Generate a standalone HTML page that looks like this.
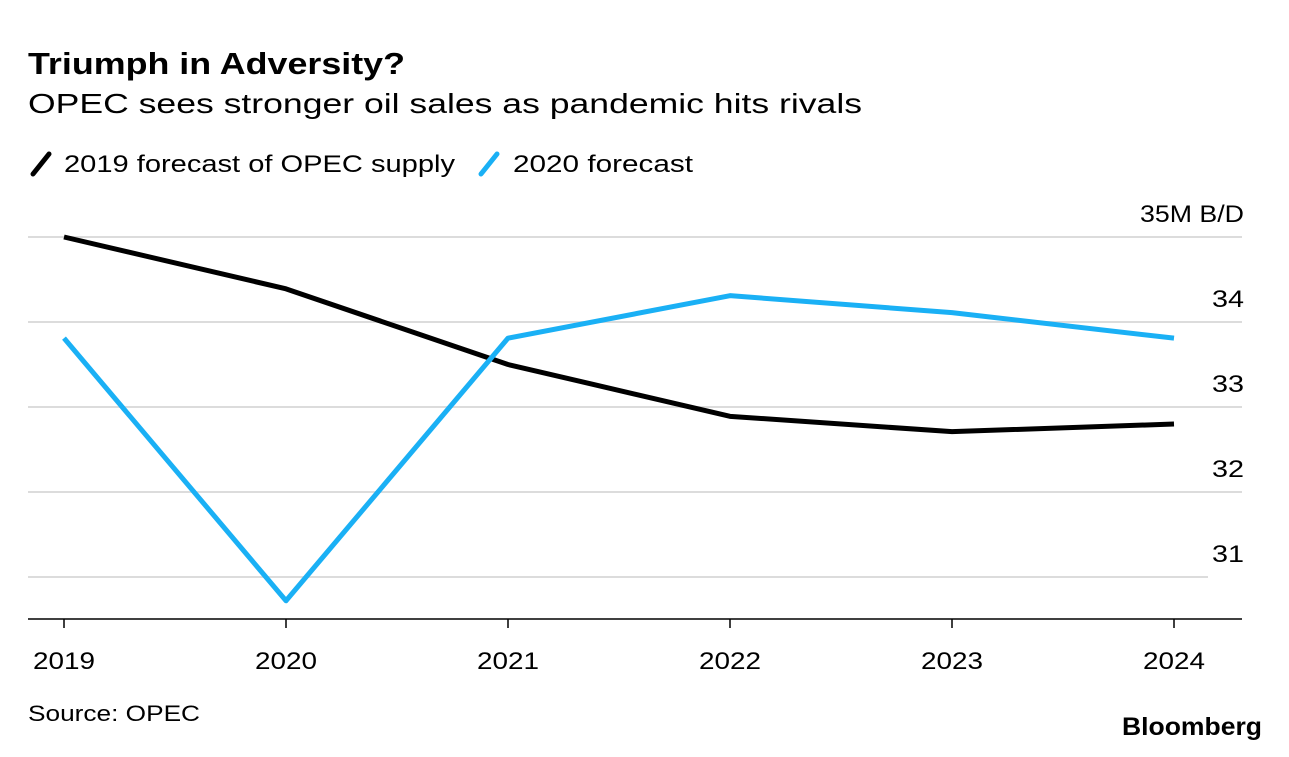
<!DOCTYPE html>
<html><head><meta charset="utf-8"><style>
body{margin:0;background:#fff;width:1289px;height:752px;overflow:hidden;font-family:"Liberation Sans",sans-serif;}
svg text{font-family:"Liberation Sans",sans-serif;}
</style></head><body>
<svg id="chart" width="1289" height="752">
<text x="28" y="74" font-size="31" font-weight="bold" fill="#000" textLength="377" lengthAdjust="spacingAndGlyphs">Triumph in Adversity?</text>
<text x="28" y="113" font-size="28" fill="#000" textLength="834" lengthAdjust="spacingAndGlyphs">OPEC sees stronger oil sales as pandemic hits rivals</text>
<g>
<line x1="33" y1="174" x2="49" y2="154" stroke="#000" stroke-width="5" stroke-linecap="round"/>
<text x="64" y="172" font-size="24" textLength="391" lengthAdjust="spacingAndGlyphs">2019 forecast of OPEC supply</text>
<line x1="481" y1="174" x2="497" y2="154" stroke="#1ab0f5" stroke-width="5" stroke-linecap="round"/>
<text x="513" y="172" font-size="24" textLength="180" lengthAdjust="spacingAndGlyphs">2020 forecast</text>
</g>
<g id="grid"></g>
<g id="axes"></g>
<g id="series"></g>
<text x="28" y="721" font-size="22" textLength="172" lengthAdjust="spacingAndGlyphs">Source: OPEC</text>
<text x="1122" y="735" font-size="25" font-weight="bold" textLength="140" lengthAdjust="spacingAndGlyphs">Bloomberg</text>
</svg>
<script>
const years=["2019","2020","2021","2022","2023","2024"];
const forecast2019=[35.0,34.39,33.5,32.89,32.71,32.8];
const forecast2020=[33.81,30.72,33.81,34.31,34.11,33.81];
const yTicks=[35,34,33,32,31];
const yTickLabels=["35M B/D","34","33","32","31"];
const NS="http://www.w3.org/2000/svg";
function xs(i){return 64+i*222;}
function ys(v){return 237+(35-v)*85;}
function mk(tag,attrs,parent){const e=document.createElementNS(NS,tag);for(const k in attrs)e.setAttribute(k,attrs[k]);parent.appendChild(e);return e;}
const grid=document.getElementById('grid'),axes=document.getElementById('axes'),series=document.getElementById('series');
yTicks.forEach((t,i)=>{
 const l=mk('line',{x1:28,x2:t===31?1208:1242,y1:ys(t),y2:ys(t),stroke:'#dcdcdc','stroke-width':2},grid);
 
 
 const lab=yTickLabels[i];
 const tx=mk('text',{x:1244,y:ys(t)-15,'font-size':24,'text-anchor':'end',textLength:lab.length>2?104:32,lengthAdjust:'spacingAndGlyphs'},grid);
 tx.textContent=lab;
 
 
});
const base=mk('line',{x1:28,x2:1242,y1:619,y2:619,stroke:'#000','stroke-width':1.5},axes);


years.forEach((y,i)=>{
 const tk=mk('line',{x1:xs(i),x2:xs(i),y1:619,y2:628,stroke:'#000','stroke-width':1.5},axes);
 
 
 const tx=mk('text',{x:xs(i),y:669,'font-size':24,'text-anchor':'middle',textLength:62,lengthAdjust:'spacingAndGlyphs'},axes);
 tx.textContent=y;
 
 
});
function line(vals,color,name){
 const p=mk('polyline',{points:vals.map((v,i)=>xs(i)+','+ys(v)).join(' '),fill:'none',stroke:color,'stroke-width':5,'stroke-linejoin':'round'},series);
 
 
}
line(forecast2019,'#000','line-2019-forecast');
line(forecast2020,'#1ab0f5','line-2020-forecast');
</script>
</body></html>
